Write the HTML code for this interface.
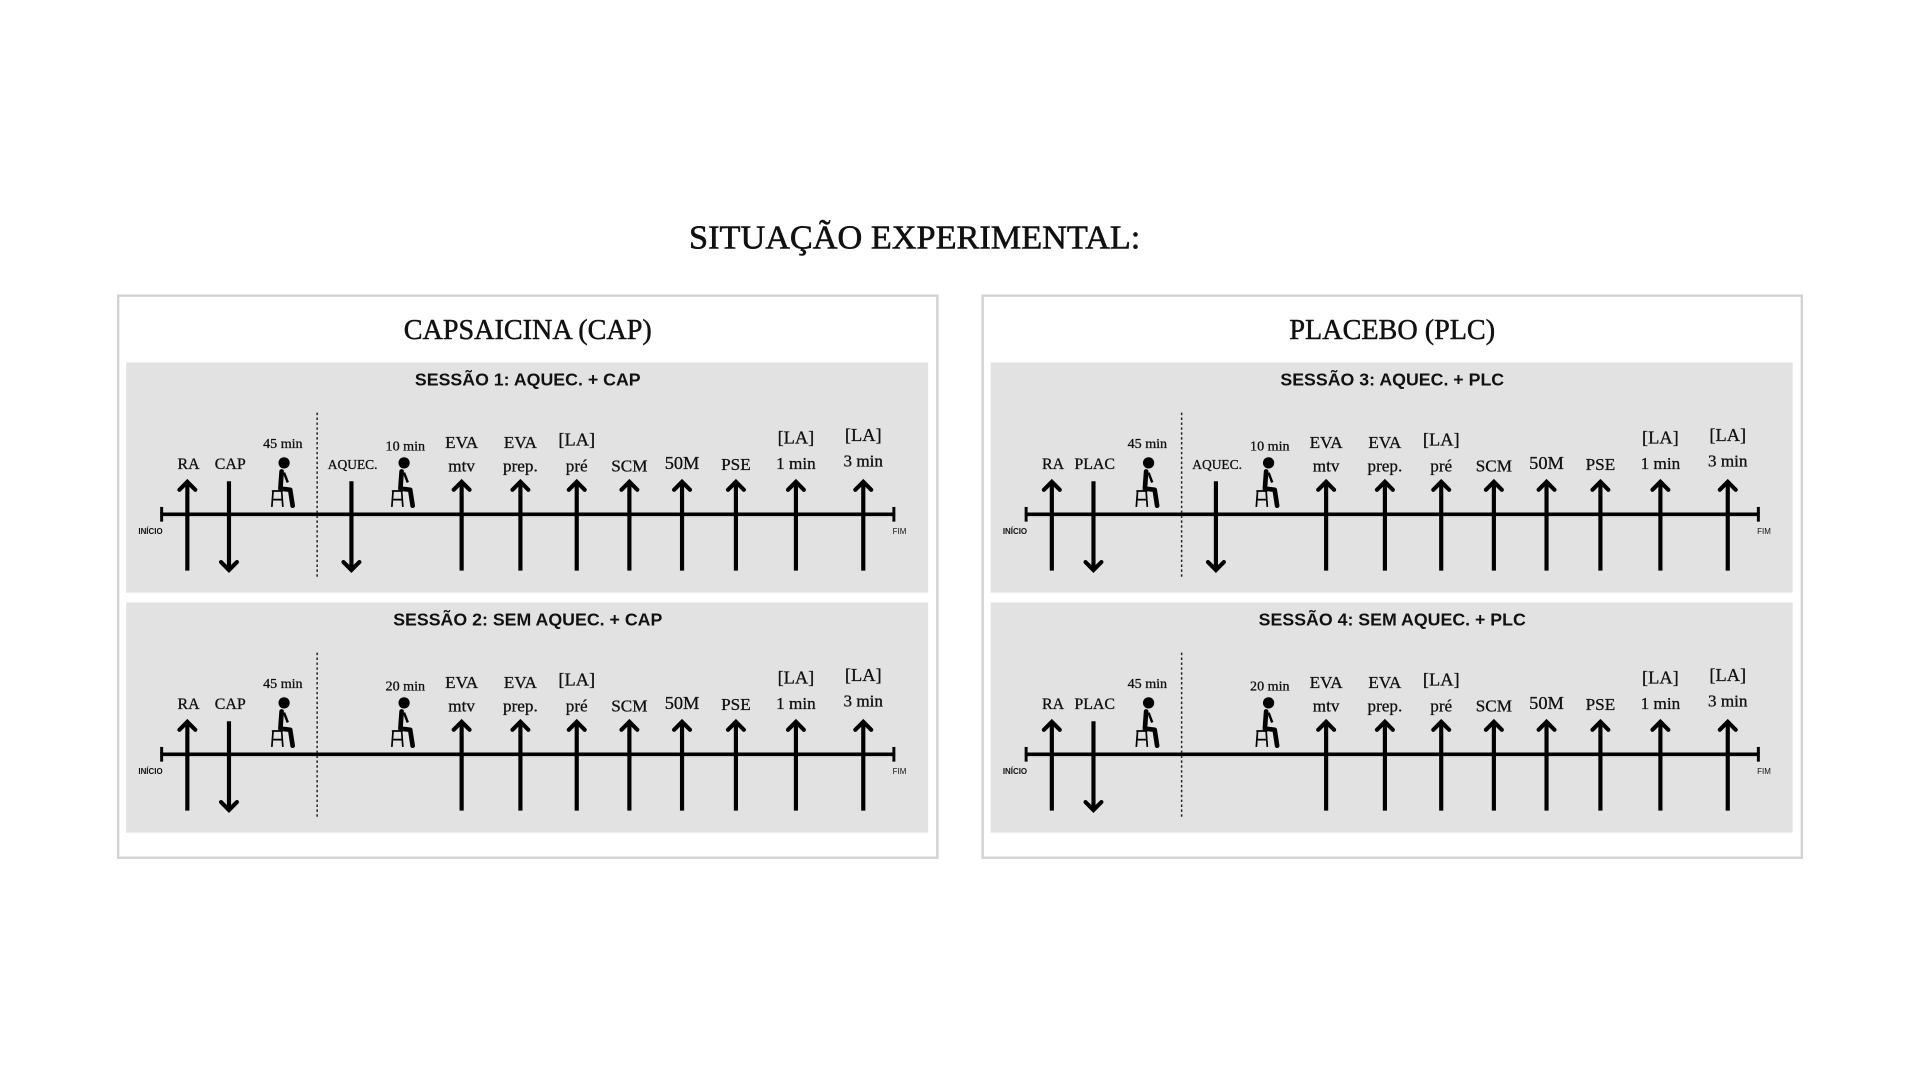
<!DOCTYPE html>
<html><head><meta charset="utf-8"><style>
html,body{margin:0;padding:0;background:#fff;width:1920px;height:1080px;overflow:hidden}
svg{display:block}
.serif{font-family:"Liberation Serif",serif;fill:#111;stroke:#111;stroke-width:0.25}
.sans{font-family:"Liberation Sans",sans-serif;fill:#111}
</style></head><body>
<svg id="fig" width="1920" height="1080" viewBox="0 0 1568 882" xmlns="http://www.w3.org/2000/svg">
<text class="serif" x="747" y="203" font-size="28" text-anchor="middle" style="stroke-width:0.5">SITUAÇÃO EXPERIMENTAL:</text>
<g id="content"></g>
</svg>
<script>
// Session definitions (timeline events)
const panelTitles = ["CAPSAICINA (CAP)", "PLACEBO (PLC)"];
const sessionTitles = [["SESSÃO 1: AQUEC. + CAP","SESSÃO 2: SEM AQUEC. + CAP"],["SESSÃO 3: AQUEC. + PLC","SESSÃO 4: SEM AQUEC. + PLC"]];
const substance = ["CAP","PLAC"];
const restTime = [["10 min","20 min"],["10 min","20 min"]];
const upEvents = [
  {x:377,l1:"EVA",l2:"mtv",y1:366,y2:385,f1:14,f2:14},
  {x:425,l1:"EVA",l2:"prep.",y1:366,y2:385,f1:14,f2:14},
  {x:471,l1:"[LA]",l2:"pré",y1:364,y2:385,f1:15,f2:14},
  {x:514,l1:"",l2:"SCM",y1:0,y2:385,f1:14,f2:14},
  {x:557,l1:"",l2:"50M",y1:0,y2:383,f1:15,f2:15},
  {x:601,l1:"",l2:"PSE",y1:0,y2:384,f1:14,f2:14},
  {x:650,l1:"[LA]",l2:"1 min",y1:362,y2:383,f1:15,f2:14},
  {x:705,l1:"[LA]",l2:"3 min",y1:360,y2:381,f1:15,f2:14}
];
const NS="http://www.w3.org/2000/svg";
const root=document.getElementById('content');
function mk(tag,attrs,parent){const e=document.createElementNS(NS,tag);for(const k in attrs)e.setAttribute(k,attrs[k]);(parent||root).appendChild(e);return e;}
function txt(parent,x,y,s,size,cls,anchor,weight){const t=mk('text',{x:x,y:y,'font-size':size,class:cls,'text-anchor':anchor||'middle'},parent);if(weight)t.setAttribute('font-weight',weight);t.textContent=s;return t;}
function arrow(g,x,y0,up){
  const a=mk('g',{},g);
  
  
  const top=y0+392-420, bot=y0+466-420;
  mk('line',{x1:x,y1:top+1,x2:x,y2:bot,stroke:'#000','stroke-width':3.4},a);
  if(up) mk('polyline',{points:`${x-6.5},${top+8} ${x},${top+1.5} ${x+6.5},${top+8}`,fill:'none',stroke:'#000','stroke-width':3.4,'stroke-linecap':'round','stroke-linejoin':'miter'},a);
  else mk('polyline',{points:`${x-6.5},${bot-7} ${x},${bot-0.5} ${x+6.5},${bot-7}`,fill:'none',stroke:'#000','stroke-width':3.4,'stroke-linecap':'round'},a);
}
function person(g,x,y0){
  const p=mk('g',{},g);
  
  
  const b=y0-420;
  mk('circle',{cx:x+1,cy:b+378,r:4.6,fill:'#000'},p);
  mk('path',{d:`M${x-1},${b+385} L${x-2},${b+399} L${x+6},${b+400} L${x+8},${b+413}`,fill:'none',stroke:'#000','stroke-width':3.8,'stroke-linejoin':'round','stroke-linecap':'round'},p);
  mk('path',{d:`M${x+1},${b+386} L${x+4},${b+394}`,fill:'none',stroke:'#000','stroke-width':2},p);
  mk('path',{d:`M${x-9},${b+401} L${x},${b+401} M${x-8},${b+401} L${x-9},${b+414} M${x-1},${b+401} L${x},${b+414} M${x-8},${b+408} L${x-1},${b+408}`,fill:'none',stroke:'#000','stroke-width':1.4},p);
}
for(let pi=0;pi<2;pi++){
  const ox=pi*706;
  const panel=mk('g',{});
  
  
  mk('rect',{x:96.5+ox,y:241.5,width:669,height:459,fill:'#fff',stroke:'#d3d3d3','stroke-width':2},panel);
  const pt=txt(panel,431+ox,277,panelTitles[pi],23,'serif');
  pt.setAttribute('style','stroke-width:0.4');
  
  
  for(let si=0;si<2;si++){
    const oy=si*196;
    const s=mk('g',{},panel);
    
    
    mk('rect',{x:103+ox,y:296+oy,width:655,height:188,fill:'#e2e2e2'},s);
    const st=txt(s,431+ox,315+oy,sessionTitles[pi][si],14.5,'sans','middle','bold');
    
    
    const ly=420+oy;
    mk('line',{x1:131+ox,y1:ly,x2:731+ox,y2:ly,stroke:'#000','stroke-width':3},s);
    mk('line',{x1:132+ox,y1:ly-6,x2:132+ox,y2:ly+6,stroke:'#000','stroke-width':2.4},s);
    mk('line',{x1:730+ox,y1:ly-6,x2:730+ox,y2:ly+6,stroke:'#000','stroke-width':2.4},s);
    txt(s,113+ox,ly+16,'INÍCIO',6.5,'sans','start','bold');
    txt(s,729+ox,ly+16,'FIM',6.5,'sans','start');
    mk('line',{x1:259+ox,y1:337+oy,x2:259+ox,y2:471+oy,stroke:'#222','stroke-width':1.2,'stroke-dasharray':'2,2'},s);
    txt(s,154+ox,383+oy,'RA',13,'serif');
    txt(s,188+ox,383+oy,substance[pi],13,'serif');
    arrow(s,153+ox,ly,true);
    arrow(s,187+ox,ly,false);
    txt(s,231+ox,366+oy,'45 min',11.5,'serif');
    person(s,231+ox,ly);
    if(si===0){
      txt(s,288+ox,383+oy,'AQUEC.',11,'serif');
      arrow(s,287+ox,ly,false);
    }
    txt(s,331+ox,368+oy,restTime[pi][si],11.5,'serif');
    person(s,329+ox,ly);
    for(const ev of upEvents){
      if(ev.l1) txt(s,ev.x+ox,ev.y1+oy,ev.l1,ev.f1,'serif');
      txt(s,ev.x+ox,ev.y2+oy,ev.l2,ev.f2,'serif');
      arrow(s,ev.x+ox,ly,true);
    }
  }
}
</script>
</body></html>
